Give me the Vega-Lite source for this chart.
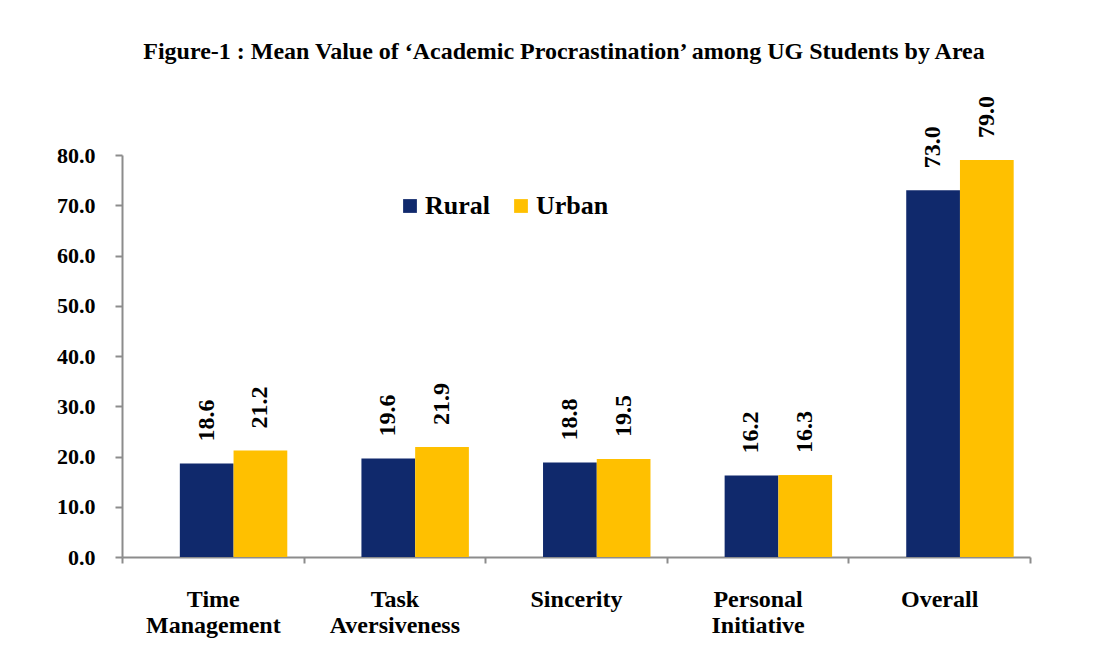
{
  "$schema": "https://vega.github.io/schema/vega-lite/v6.json",
  "width": 908,
  "height": 402,
  "autosize": {"type": "none"},
  "padding": {"left": 122, "top": 155, "right": 74, "bottom": 99},
  "background": "white",
  "title": {
    "text": "Figure-1 : Mean Value of ‘Academic Procrastination’ among UG Students by Area",
    "font": "Liberation Serif",
    "fontSize": 24,
    "fontWeight": "bold",
    "color": "black",
    "anchor": "middle",
    "offset": 32,
    "dx": -12
  },
  "config": {
    "view": {"stroke": null},
    "font": "Liberation Serif"
  },
  "data": {
    "values": [
      {"category": "Time Management", "area": "Rural", "value": 18.6},
      {"category": "Time Management", "area": "Urban", "value": 21.2},
      {"category": "Task Aversiveness", "area": "Rural", "value": 19.6},
      {"category": "Task Aversiveness", "area": "Urban", "value": 21.9},
      {"category": "Sincerity", "area": "Rural", "value": 18.8},
      {"category": "Sincerity", "area": "Urban", "value": 19.5},
      {"category": "Personal Initiative", "area": "Rural", "value": 16.2},
      {"category": "Personal Initiative", "area": "Urban", "value": 16.3},
      {"category": "Overall", "area": "Rural", "value": 73.0},
      {"category": "Overall", "area": "Urban", "value": 79.0}
    ]
  },
  "encoding": {
    "x": {
      "field": "category",
      "type": "nominal",
      "sort": null,
      "scale": {"paddingInner": 0, "paddingOuter": 0},
      "axis": {
        "title": null,
        "labelAngle": 0,
        "labelExpr": "split(datum.label, ' ')",
        "labelFont": "Liberation Serif",
        "labelFontSize": 24,
        "labelFontWeight": "bold",
        "labelColor": "black",
        "labelLineHeight": 26,
        "labelPadding": 24,
        "tickBand": "extent",
        "tickColor": "#8c8c8c",
        "tickSize": 6,
        "domainColor": "#8c8c8c",
        "domainWidth": 2,
        "tickWidth": 2
      }
    },
    "xOffset": {
      "field": "area",
      "type": "nominal",
      "scale": {"paddingInner": 0, "paddingOuter": 0.69, "align": 0.78}
    },
    "y": {
      "field": "value",
      "type": "quantitative",
      "scale": {"domain": [0, 80], "nice": false},
      "axis": {
        "title": null,
        "values": [0, 10, 20, 30, 40, 50, 60, 70, 80],
        "format": ".1f",
        "grid": false,
        "labelFont": "Liberation Serif",
        "labelFontSize": 22,
        "labelFontWeight": "bold",
        "labelColor": "black",
        "labelPadding": 20,
        "tickColor": "#8c8c8c",
        "tickSize": 7,
        "tickWidth": 2,
        "domainColor": "#8c8c8c",
        "domainWidth": 2
      }
    },
    "color": {
      "field": "area",
      "type": "nominal",
      "scale": {"domain": ["Rural", "Urban"], "range": ["#10296C", "#FFC000"]},
      "legend": {
        "title": null,
        "orient": "none",
        "direction": "horizontal",
        "legendX": 275,
        "legendY": 38,
        "symbolType": "square",
        "symbolSize": 190,
        "symbolStrokeWidth": 0,
        "labelFont": "Liberation Serif",
        "labelFontSize": 26,
        "labelFontWeight": "bold",
        "labelColor": "black",
        "labelOffset": 2,
        "columnPadding": 18
      }
    }
  },
  "layer": [
    {"mark": {"type": "bar", "cornerRadius": 0}},
    {
      "mark": {
        "type": "text",
        "angle": -90,
        "align": "left",
        "baseline": "middle",
        "dx": 22,
        "font": "Liberation Serif",
        "fontSize": 24,
        "fontWeight": "bold",
        "color": "black"
      },
      "encoding": {
        "text": {"field": "value", "type": "quantitative", "format": ".1f"},
        "color": {"value": "black"}
      }
    }
  ]
}
